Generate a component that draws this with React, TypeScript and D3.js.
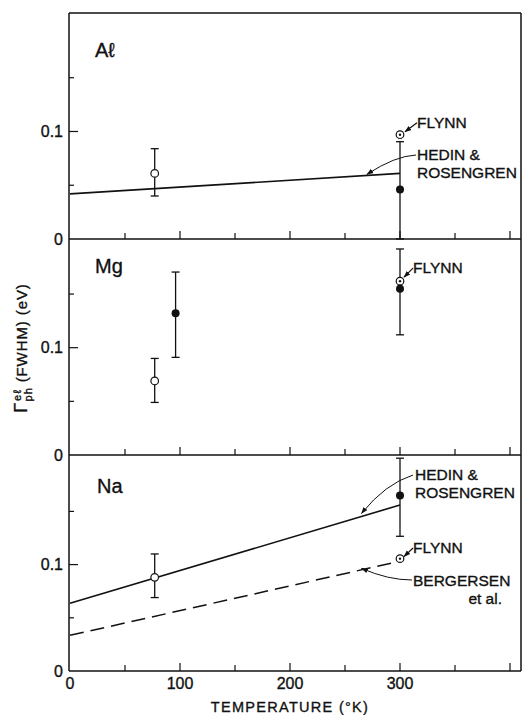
import React from "react";
import * as d3 from "d3";

type Pt = { t: number; v: number; lo?: number; hi?: number };

const panelNames = ["Aℓ", "Mg", "Na"];
const xTickLabels = [0, 100, 200, 300];
const xTicksMinor = [50, 100, 150, 200, 250, 300, 350, 400];
const yTickLabelValues = [0, 0.1];
const yTicksAll = [0.05, 0.1, 0.15];

const alOpen: Pt[] = [{ t: 77, v: 0.061, lo: 0.04, hi: 0.084 }];
const alFilled: Pt[] = [{ t: 300, v: 0.046, lo: 0.0, hi: 0.0905 }];
const alFlynn: Pt[] = [{ t: 300, v: 0.097 }];
const alHedin: Pt[] = [{ t: 0, v: 0.042 }, { t: 300, v: 0.061 }];

const mgOpen: Pt[] = [{ t: 77, v: 0.069, lo: 0.049, hi: 0.09 }];
const mgFilled: Pt[] = [
  { t: 96, v: 0.132, lo: 0.091, hi: 0.1705 },
  { t: 300, v: 0.155, lo: 0.112, hi: 0.192 },
];
const mgFlynn: Pt[] = [{ t: 300, v: 0.162 }];

const naOpen: Pt[] = [{ t: 77, v: 0.088, lo: 0.069, hi: 0.11 }];
const naFilled: Pt[] = [{ t: 300, v: 0.165, lo: 0.1266, hi: 0.2 }];
const naFlynn: Pt[] = [{ t: 300, v: 0.1056 }];
const naHedin: Pt[] = [{ t: 0, v: 0.0636 }, { t: 300, v: 0.156 }];
const naBergersen: Pt[] = [{ t: 0, v: 0.0335 }, { t: 297, v: 0.1025 }];

const W = 523;
const H = 715;
const LEFT = 70;
const RIGHT = 521;
const TOP = 13;
const FONT = "'Liberation Sans', Arial, Helvetica, sans-serif";
const INK = "#111";

const x = d3.scaleLinear().domain([0, 410]).range([LEFT, RIGHT]);
const panelBox = [
  { top: TOP, bottom: 239, yMax: 0.2102 },
  { top: 239, bottom: 455, yMax: 0.2013 },
  { top: 455, bottom: 671, yMax: 0.203 },
];
const yScales = panelBox.map((p) =>
  d3.scaleLinear().domain([0, p.yMax]).range([p.bottom, p.top])
);

const line = (ys: d3.ScaleLinear<number, number>) =>
  d3
    .line<Pt>()
    .x((d) => x(d.t))
    .y((d) => ys(d.v));

const textStyle = { stroke: INK, strokeWidth: 0.35 } as any;

function ErrorBars({ data, ys }: { data: Pt[]; ys: d3.ScaleLinear<number, number> }) {
  return (
    <g stroke={INK} strokeWidth={1.3}>
      {data.map((d, i) => (
        <g key={i}>
          <line x1={x(d.t)} x2={x(d.t)} y1={ys(d.lo!)} y2={ys(d.hi!)} />
          <line x1={x(d.t) - 4} x2={x(d.t) + 4} y1={ys(d.lo!)} y2={ys(d.lo!)} />
          <line x1={x(d.t) - 4} x2={x(d.t) + 4} y1={ys(d.hi!)} y2={ys(d.hi!)} />
        </g>
      ))}
    </g>
  );
}

function Open({ data, ys }: { data: Pt[]; ys: d3.ScaleLinear<number, number> }) {
  return (
    <g>
      {data.map((d, i) => (
        <circle key={i} cx={x(d.t)} cy={ys(d.v)} r={3.8} fill="#fff" stroke={INK} strokeWidth={1.2} />
      ))}
    </g>
  );
}
function Filled({ data, ys }: { data: Pt[]; ys: d3.ScaleLinear<number, number> }) {
  return (
    <g>
      {data.map((d, i) => (
        <circle key={i} cx={x(d.t)} cy={ys(d.v)} r={4} fill={INK} />
      ))}
    </g>
  );
}
function Dotted({ data, ys }: { data: Pt[]; ys: d3.ScaleLinear<number, number> }) {
  return (
    <g>
      {data.map((d, i) => (
        <g key={i}>
          <circle cx={x(d.t)} cy={ys(d.v)} r={3.8} fill="#fff" stroke={INK} strokeWidth={1.2} />
          <circle cx={x(d.t)} cy={ys(d.v)} r={1.2} fill={INK} />
        </g>
      ))}
    </g>
  );
}

function Label({ xx, yy, text, anchor = "start" }: { xx: number; yy: number; text: string; anchor?: string }) {
  return (
    <text x={xx} y={yy} fontSize={15.5} fontFamily={FONT} fill={INK} textAnchor={anchor as any} style={textStyle}>
      {text}
    </text>
  );
}

export default function App() {
  const [ysAl, ysMg, ysNa] = yScales;
  const x300 = x(300);
  return (
    <svg width={W} height={H} style={{ position: "absolute", left: 0, top: 0, background: "#fff" }}>
      <defs>
        <marker id="ah" viewBox="0 0 10 10" refX={9} refY={5} markerWidth={7} markerHeight={7} orient="auto-start-reverse" markerUnits="userSpaceOnUse">
          <path d="M0,1.5 L10,5 L0,8.5 Z" fill={INK} />
        </marker>
      </defs>
      <rect width={W} height={H} fill="#fff" />

      {/* frame */}
      <g stroke={INK} strokeWidth={1.5} fill="none">
        <line x1={LEFT - 1} x2={LEFT - 1} y1={TOP} y2={panelBox[2].bottom} />
        <line x1={LEFT - 1} x2={RIGHT} y1={TOP} y2={TOP} />
        <line x1={RIGHT} x2={RIGHT} y1={TOP} y2={panelBox[2].bottom} />
        {panelBox.map((p, i) => (
          <line key={i} x1={LEFT - 1} x2={RIGHT} y1={p.bottom} y2={p.bottom} />
        ))}
      </g>

      {/* ticks */}
      {panelBox.map((p, i) => (
        <g key={i} stroke={INK} strokeWidth={1.2}>
          {xTicksMinor.map((t) => (
            <line key={t} x1={x(t)} x2={x(t)} y1={p.bottom} y2={p.bottom - (t % 100 === 0 ? 8 : 6)} />
          ))}
          {yTicksAll.map((v) => (
            <line key={v} x1={LEFT - 1} x2={LEFT - 1 + (Math.abs(v - 0.1) < 1e-9 ? 9 : 5)} y1={yScales[i](v)} y2={yScales[i](v)} />
          ))}
        </g>
      ))}

      {/* y tick labels */}
      {panelBox.map((p, i) => (
        <g key={i}>
          {yTickLabelValues.map((v) => (
            <text key={v} x={LEFT - 7} y={yScales[i](v)} dy="0.36em" fontSize={16} fontFamily={FONT} textAnchor="end" fill={INK} style={textStyle}>
              {v === 0 ? "0" : "0.1"}
            </text>
          ))}
        </g>
      ))}

      {/* x tick labels */}
      {xTickLabels.map((t) => (
        <text key={t} x={x(t)} y={689} fontSize={16} fontFamily={FONT} textAnchor="middle" fill={INK} style={textStyle}>
          {t}
        </text>
      ))}
      <text x={x(200)} y={712} fontSize={14.5} fontFamily={FONT} textAnchor="middle" fill={INK} letterSpacing={1.3} style={textStyle}>
        TEMPERATURE (°K)
      </text>

      {/* y axis title */}
      <text transform={`translate(27,348) rotate(-90)`} fontSize={15} fontFamily={FONT} textAnchor="middle" fill={INK} letterSpacing={0.9} style={textStyle}>
        <tspan fontSize={18}>Γ</tspan>
        <tspan fontSize={11} dy={-6} dx={1}>eℓ</tspan>
        <tspan fontSize={11} dy={11} dx={-12}>ph</tspan>
        <tspan dy={-5} dx={5}>(FWHM) (eV)</tspan>
      </text>

      {/* panel names */}
      <text x={95} y={57} fontSize={20} fontFamily={FONT} fill={INK} style={textStyle}>{panelNames[0]}</text>
      <text x={95} y={273} fontSize={20} fontFamily={FONT} fill={INK} style={textStyle}>{panelNames[1]}</text>
      <text x={97} y={493} fontSize={20} fontFamily={FONT} fill={INK} style={textStyle}>{panelNames[2]}</text>

      {/* Al panel */}
      <path d={line(ysAl)(alHedin)!} stroke={INK} strokeWidth={1.6} fill="none" />
      <ErrorBars data={alOpen} ys={ysAl} />
      <ErrorBars data={alFilled} ys={ysAl} />
      <Open data={alOpen} ys={ysAl} />
      <Filled data={alFilled} ys={ysAl} />
      <Dotted data={alFlynn} ys={ysAl} />
      <Label xx={x300 + 17} yy={ysAl(alFlynn[0].v) - 7} text="FLYNN" />
      <path d={`M${x300 + 17},${ysAl(alFlynn[0].v) - 12} L${x300 + 5},${ysAl(alFlynn[0].v) - 3}`} stroke={INK} strokeWidth={1.2} fill="none" markerEnd="url(#ah)" />
      <Label xx={x300 + 17} yy={160} text="HEDIN &" />
      <Label xx={x300 + 17} yy={178} text="ROSENGREN" />
      <path d={`M${x300 + 16},${155} Q${x300 - 5},${156} ${x(270)},${ysAl(0.0602)}`} stroke={INK} strokeWidth={1} fill="none" markerEnd="url(#ah)" />

      {/* Mg panel */}
      <ErrorBars data={mgOpen} ys={ysMg} />
      <ErrorBars data={mgFilled} ys={ysMg} />
      <Open data={mgOpen} ys={ysMg} />
      <Filled data={mgFilled} ys={ysMg} />
      <Dotted data={mgFlynn} ys={ysMg} />
      <Label xx={x300 + 13} yy={ysMg(mgFlynn[0].v) - 8} text="FLYNN" />
      <path d={`M${x300 + 13},${ysMg(mgFlynn[0].v) - 13} L${x300 + 4},${ysMg(mgFlynn[0].v) - 4}`} stroke={INK} strokeWidth={1.2} fill="none" markerEnd="url(#ah)" />

      {/* Na panel */}
      <path d={line(ysNa)(naHedin)!} stroke={INK} strokeWidth={1.6} fill="none" />
      <path d={line(ysNa)(naBergersen)!} stroke={INK} strokeWidth={1.5} fill="none" strokeDasharray="14,7" />
      <ErrorBars data={naOpen} ys={ysNa} />
      <ErrorBars data={naFilled} ys={ysNa} />
      <Open data={naOpen} ys={ysNa} />
      <Filled data={naFilled} ys={ysNa} />
      <Dotted data={naFlynn} ys={ysNa} />
      <Label xx={x300 + 15} yy={480} text="HEDIN &" />
      <Label xx={x300 + 15} yy={498} text="ROSENGREN" />
      <path d={`M${x300 + 13},${475} Q${x300 - 15},${484} ${x(265)},${ysNa(0.148)}`} stroke={INK} strokeWidth={1} fill="none" markerEnd="url(#ah)" />
      <Label xx={x300 + 13} yy={553} text="FLYNN" />
      <path d={`M${x300 + 13},${548} L${x300 + 4},${ysNa(naFlynn[0].v) - 2}`} stroke={INK} strokeWidth={1.2} fill="none" markerEnd="url(#ah)" />
      <Label xx={x300 + 13} yy={586} text="BERGERSEN" />
      <text x={502} y={604} fontSize={15.5} fontFamily={FONT} fill={INK} textAnchor="end" style={textStyle}>et al.</text>
      <path d={`M${x300 + 12},${580} Q${x300 - 12},${580} ${x(265)},${ysNa(0.0965)}`} stroke={INK} strokeWidth={1} fill="none" markerEnd="url(#ah)" />
    </svg>
  );
}
